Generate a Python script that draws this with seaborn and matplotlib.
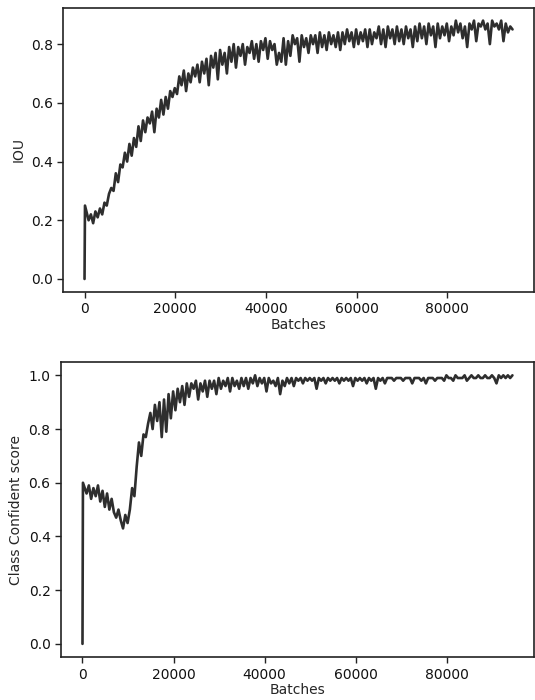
import numpy as np
import pandas as pd
import matplotlib
matplotlib.use("Agg")
import matplotlib.pyplot as plt
import seaborn as sns

# Batches: first sample at 0, then every 500 starting at 100
batch_first = 100
batch_step = 500

iou = [
    0.00, 0.25, 0.20, 0.22, 0.19, 0.23, 0.21, 0.24, 0.22, 0.26,
    0.25, 0.29, 0.31, 0.30, 0.36, 0.33, 0.39, 0.38, 0.43, 0.40,
    0.46, 0.42, 0.48, 0.45, 0.52, 0.47, 0.54, 0.50, 0.55, 0.53,
    0.57, 0.50, 0.58, 0.55, 0.61, 0.56, 0.62, 0.58, 0.64, 0.62,
    0.65, 0.63, 0.69, 0.66, 0.71, 0.64, 0.70, 0.67, 0.72, 0.69,
    0.73, 0.67, 0.74, 0.70, 0.75, 0.66, 0.76, 0.72, 0.77, 0.68,
    0.78, 0.73, 0.77, 0.70, 0.79, 0.74, 0.80, 0.72, 0.79, 0.76,
    0.80, 0.73, 0.79, 0.77, 0.81, 0.75, 0.80, 0.74, 0.81, 0.78,
    0.82, 0.75, 0.81, 0.78, 0.80, 0.73, 0.77, 0.74, 0.82, 0.73,
    0.81, 0.76, 0.83, 0.80, 0.82, 0.74, 0.83, 0.79, 0.82, 0.77,
    0.83, 0.80, 0.83, 0.77, 0.84, 0.79, 0.83, 0.78, 0.84, 0.80,
    0.83, 0.79, 0.84, 0.78, 0.84, 0.80, 0.85, 0.81, 0.84, 0.79,
    0.85, 0.80, 0.84, 0.81, 0.85, 0.79, 0.85, 0.80, 0.84, 0.82,
    0.86, 0.80, 0.85, 0.79, 0.86, 0.82, 0.85, 0.80, 0.86, 0.81,
    0.85, 0.80, 0.86, 0.82, 0.85, 0.79, 0.86, 0.81, 0.87, 0.82,
    0.86, 0.80, 0.87, 0.83, 0.86, 0.79, 0.87, 0.82, 0.86, 0.83,
    0.87, 0.81, 0.86, 0.83, 0.88, 0.84, 0.87, 0.82, 0.86, 0.79,
    0.87, 0.85, 0.88, 0.81, 0.87, 0.86, 0.88, 0.85, 0.87, 0.80,
    0.88, 0.86, 0.87, 0.85, 0.88, 0.81, 0.87, 0.84, 0.86, 0.85,
]

class_conf = [
    0.00, 0.60, 0.56, 0.59, 0.54, 0.58, 0.55, 0.59, 0.53, 0.57,
    0.51, 0.56, 0.50, 0.54, 0.49, 0.47, 0.50, 0.46, 0.43, 0.48,
    0.45, 0.50, 0.58, 0.55, 0.66, 0.75, 0.70, 0.78, 0.77, 0.82,
    0.86, 0.80, 0.89, 0.83, 0.90, 0.77, 0.91, 0.79, 0.93, 0.84,
    0.94, 0.87, 0.95, 0.90, 0.96, 0.89, 0.97, 0.92, 0.97, 0.95,
    0.98, 0.91, 0.97, 0.94, 0.98, 0.92, 0.98, 0.95, 0.98, 0.93,
    0.99, 0.95, 0.98, 0.96, 0.99, 0.94, 0.99, 0.96, 0.98, 0.95,
    0.99, 0.96, 0.99, 0.95, 0.99, 0.97, 1.00, 0.96, 0.99, 0.97,
    0.99, 0.94, 0.99, 0.97, 0.98, 0.96, 0.99, 0.93, 0.98, 0.96,
    0.99, 0.97, 0.99, 0.96, 0.99, 0.98, 0.99, 0.97, 0.99, 0.98,
    0.99, 0.98, 0.99, 0.95, 0.99, 0.98, 0.99, 0.97, 0.99, 0.98,
    0.99, 0.98, 0.99, 0.97, 0.99, 0.98, 0.99, 0.98, 0.99, 0.96,
    0.99, 0.98, 0.99, 0.98, 0.99, 0.97, 0.99, 0.98, 0.99, 0.95,
    0.99, 0.98, 0.99, 0.97, 0.99, 0.99, 0.99, 0.98, 0.99, 0.99,
    0.99, 0.98, 0.99, 0.99, 0.99, 0.97, 0.99, 0.99, 0.99, 0.98,
    0.99, 0.97, 0.99, 0.99, 0.99, 0.98, 0.99, 0.99, 0.99, 0.98,
    1.00, 0.99, 0.99, 0.98, 1.00, 0.99, 0.99, 0.99, 1.00, 0.98,
    0.99, 1.00, 0.99, 0.99, 1.00, 0.99, 0.99, 1.00, 0.99, 0.99,
    1.00, 0.99, 0.97, 1.00, 0.99, 1.00, 0.99, 1.00, 0.99, 1.00,
]

batches = [0] + [batch_first + batch_step * (i - 1) + 300 * (i > 1) for i in range(1, len(iou))]
df = pd.DataFrame({"Batches": batches, "IOU": iou, "Class Confident score": class_conf})

sns.set_style("ticks")
plt.rcParams["font.family"] = ["DejaVu Sans"]
plt.rcParams["font.size"] = 10

fig = plt.figure(figsize=(5.35, 7.0), dpi=100)
ax1 = fig.add_axes([0.118, 0.583, 0.880, 0.406])
ax2 = fig.add_axes([0.114, 0.061, 0.884, 0.422])

line_color = "#2e2e2e"
sns.lineplot(data=df, x="Batches", y="IOU", ax=ax1, color=line_color, linewidth=1.9)
sns.lineplot(data=df, x="Batches", y="Class Confident score", ax=ax2, color=line_color, linewidth=1.9)

for ax in (ax1, ax2):
    ax.set_xticks([0, 20000, 40000, 60000, 80000])
    ax.tick_params(labelsize=10, width=1, length=4, color="#222222", labelcolor="#111111")
    ax.xaxis.label.set_size(10)
    ax.yaxis.label.set_size(10)
    for s in ax.spines.values():
        s.set_visible(True)
        s.set_color("#222222")
        s.set_linewidth(1.2)
    ax.margins(x=0.05, y=0.05)
    ax.xaxis.labelpad = 1

ax1.set_yticks([0.0, 0.2, 0.4, 0.6, 0.8])
ax2.set_yticks([0.0, 0.2, 0.4, 0.6, 0.8, 1.0])

fig.savefig("out.png", dpi=100)
